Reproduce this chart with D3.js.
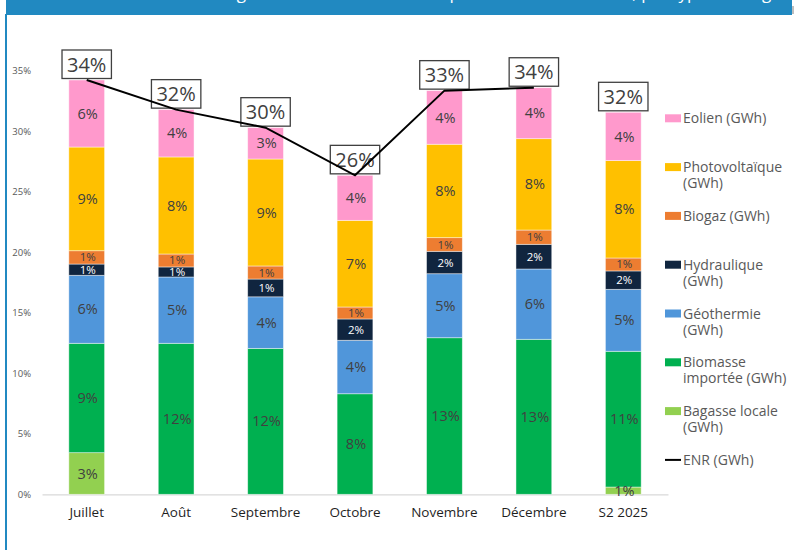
<!DOCTYPE html>
<html>
<head>
<meta charset="utf-8">
<script src="https://cdn.jsdelivr.net/npm/d3@7"></script>
<style>
  html, body { margin: 0; padding: 0; background: #fff; }
  svg { display: block; }
  text { font-family: "Open Sans", "Noto Sans", sans-serif; }
</style>
</head>
<body>
<script>
const categories = ["Juillet", "Août", "Septembre", "Octobre", "Novembre", "Décembre", "S2 2025"];
const seriesKeys = ["bagasse", "biomasse", "geothermie", "hydraulique", "biogaz", "photovoltaique", "eolien"];
const bagasse        = [3.44, 0, 0, 0, 0, 0, 0.60];
const biomasse       = [9.04, 12.48, 12.06, 8.31, 12.94, 12.81, 11.22];
const geothermie     = [5.62, 5.48, 4.26, 4.42, 5.29, 5.81, 5.12];
const hydraulique    = [0.93, 0.83, 1.47, 1.76, 1.85, 2.04, 1.52];
const biogaz         = [1.10, 1.07, 1.08, 0.99, 1.13, 1.18, 1.07];
const photovoltaique = [8.57, 8.02, 8.84, 7.16, 7.72, 7.55, 8.05];
const eolien         = [5.54, 3.91, 2.59, 3.72, 4.43, 4.21, 3.99];
const enr            = [34.24, 31.79, 30.30, 26.36, 33.36, 33.60, null];
const yTicks = [0, 5, 10, 15, 20, 25, 30, 35];
const legendItems = [
  { key: "eolien", lines: ["Eolien (GWh)"] },
  { key: "photovoltaique", lines: ["Photovoltaïque", "(GWh)"] },
  { key: "biogaz", lines: ["Biogaz (GWh)"] },
  { key: "hydraulique", lines: ["Hydraulique", "(GWh)"] },
  { key: "geothermie", lines: ["Géothermie", "(GWh)"] },
  { key: "biomasse", lines: ["Biomasse", "importée (GWh)"] },
  { key: "bagasse", lines: ["Bagasse locale", "(GWh)"] },
  { key: "enr", lines: ["ENR (GWh)"] }
];
const title = "Part mensuelle des énergies renouvelables dans la production d'électricité, par type d'énergie";

const colors = {
  bagasse: "#92D050", biomasse: "#00B050", geothermie: "#5096DA",
  hydraulique: "#10253F", biogaz: "#ED7D31", photovoltaique: "#FFC000",
  eolien: "#FF99CC", enr: "#000000"
};
const labelColors = { hydraulique: "#ffffff" };

const seriesValues = { bagasse, biomasse, geothermie, hydraulique, biogaz, photovoltaique, eolien };
const table = categories.map((c, i) => {
  const row = { cat: c };
  seriesKeys.forEach(k => row[k] = seriesValues[k][i]);
  return row;
});

const W = 796, H = 550;
const svg = d3.select("body").append("svg").attr("width", W).attr("height", H);

// frame: blue header band + left border
svg.append("rect").attr("x", 6).attr("y", 0).attr("width", 786).attr("height", 15).attr("fill", "#2189C1");
svg.append("rect").attr("x", 5).attr("y", 14).attr("width", 2).attr("height", H - 14).attr("fill", "#2189C1");
svg.append("line").attr("x1", 793).attr("x2", 793).attr("y1", 6).attr("y2", 14).attr("stroke", "#7f7f7f").attr("stroke-width", 1);
svg.append("text").attr("x", 785).attr("y", -1.5).attr("text-anchor", "end")
  .attr("font-size", 17).attr("fill", "#ffffff").text(title);

const x = d3.scaleBand().domain(categories).range([42, 668]).paddingInner(0.6).paddingOuter(0.3);
const y = d3.scaleLinear().domain([0, 35]).range([494.3, 70.8]);

// y axis labels
const yAxis = d3.axisLeft(y).tickValues(yTicks).tickFormat(d => d + "%").tickSize(0).tickPadding(0);
const gy = svg.append("g").attr("transform", "translate(31,0)").call(yAxis);
gy.select(".domain").remove();
gy.selectAll("text").attr("font-size", 9.5).attr("fill", "#595959")
  .attr("font-family", "'Open Sans', sans-serif");

// x axis
const xAxis = d3.axisBottom(x).tickSize(0).tickPadding(13);
const gx = svg.append("g").attr("transform", "translate(0,494.3)").call(xAxis);
gx.select(".domain").attr("stroke", "#d9d9d9").attr("stroke-width", 1.2);
gx.selectAll("text").attr("font-size", 13.5).attr("fill", "#1f1f1f")
  .attr("font-family", "'Open Sans', sans-serif");

// stacked bars
const stack = d3.stack().keys(seriesKeys)(table);
const layers = svg.append("g").selectAll("g").data(stack).join("g")
  .attr("fill", d => colors[d.key]);
layers.selectAll("rect").data(d => d.map(p => Object.assign(p, { key: d.key }))).join("rect")
  .attr("x", d => x(d.data.cat))
  .attr("width", x.bandwidth())
  .attr("y", d => y(d[1]))
  .attr("height", d => Math.max(0, y(d[0]) - y(d[1])))
  .attr("stroke", "rgba(255,255,255,0.55)").attr("stroke-width", 0.8);

// segment labels
const labelsG = svg.append("g");
stack.forEach(layer => {
  layer.forEach(p => {
    const v = p[1] - p[0];
    if (v <= 0) return;
    const small = (layer.key === "biogaz" || layer.key === "hydraulique");
    labelsG.append("text")
      .attr("x", x(p.data.cat) + x.bandwidth() / 2 + 1)
      .attr("y", (y(p[0]) + y(p[1])) / 2)
      .attr("dy", "0.35em")
      .attr("text-anchor", "middle")
      .attr("font-size", small ? 11.5 : 14.5)
      .attr("fill", labelColors[layer.key] || "#404040")
      .text(Math.round(v) + "%");
  });
});

// ENR line
const line = d3.line()
  .defined(d => d.v != null)
  .x(d => x(d.cat) + x.bandwidth() / 2)
  .y(d => y(d.v));
const enrData = categories.map((c, i) => ({ cat: c, v: enr[i] }));

// total boxes
const totals = table.map(r => ({ cat: r.cat, total: d3.sum(seriesKeys, k => r[k]) }));
const boxG = svg.append("g");
totals.forEach(t => {
  const cx = x(t.cat) + x.bandwidth() / 2;
  const bottom = y(t.total) - 1.5;
  const g = boxG.append("g");
  const txt = g.append("text").attr("x", cx).attr("y", bottom - 14).attr("dy", "0.36em")
    .attr("text-anchor", "middle").attr("font-size", 20).attr("fill", "#404040")
    .text(Math.round(t.total) + "%");
  const bb = txt.node().getBBox();
  const bw = Math.max(49, bb.width + 10);
  g.insert("rect", "text").attr("x", cx - bw / 2).attr("y", bottom - 28.5)
    .attr("width", bw).attr("height", 28.5)
    .attr("fill", "#ffffff").attr("stroke", "#404040").attr("stroke-width", 1.3);
});

svg.append("path").datum(enrData).attr("d", line)
  .attr("fill", "none").attr("stroke", colors.enr).attr("stroke-width", 2);

// legend
const lg = svg.append("g");
legendItems.forEach((it, i) => {
  const yy = 118.3 + i * 48.8;
  if (it.key === "enr") {
    lg.append("line").attr("x1", 665).attr("x2", 681).attr("y1", yy).attr("y2", yy)
      .attr("stroke", colors.enr).attr("stroke-width", 2);
  } else {
    lg.append("rect").attr("x", 665).attr("y", yy - 4).attr("width", 16).attr("height", 8)
      .attr("fill", colors[it.key]);
  }
  const t = lg.append("text").attr("x", 683).attr("y", yy)
    .attr("font-size", 14).attr("fill", "#595959");
  it.lines.forEach((ln, j) => {
    t.append("tspan").attr("x", 683).attr("dy", j === 0 ? "0.36em" : "1.15em").text(ln);
  });
});
</script>
</body>
</html>
